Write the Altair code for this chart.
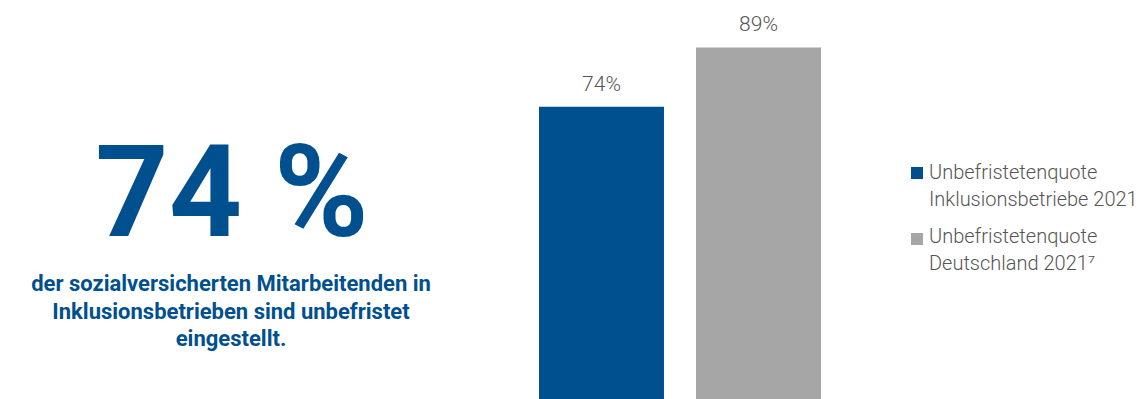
import altair as alt
import pandas as pd

kategorien = ["Inklusionsbetriebe", "Deutschland"]
legenden_texte = ["Unbefristetenquote\nInklusionsbetriebe 2021", "Unbefristetenquote\nDeutschland 2021⁷"]
werte = [74, 89]
wert_labels = ["74%", "89%"]
farben = ["#00508F", "#A6A6A6"]

kennzahl = ["74 %"]
beschreibung = ["der sozialversicherten Mitarbeitenden in", "Inklusionsbetrieben sind unbefristet", "eingestellt."]

FONT = "Roboto"
BLAU = "#00508F"
GRAU_TEXT = "#555555"

df = pd.DataFrame({"kategorie": kategorien, "wert": werte, "label": wert_labels})

x = alt.X("kategorie:N", sort=kategorien, axis=None,
          scale=alt.Scale(domain=kategorien, range=[539, 821], paddingInner=0.204, paddingOuter=0))
y = alt.Y("wert:Q", axis=None, scale=alt.Scale(domain=[0, 100], range=[399, 4], nice=False, zero=True))

bars = alt.Chart(df).mark_bar().encode(
    x=x, y=y,
    color=alt.Color("kategorie:N", sort=kategorien, legend=None,
                    scale=alt.Scale(domain=kategorien, range=farben))
)

labels = alt.Chart(df).mark_text(font=FONT, fontSize=21, fontWeight=300, color=GRAU_TEXT,
                                 dy=-16, baseline="alphabetic").encode(
    x=x, y=y, text="label:N"
)

big = alt.Chart(pd.DataFrame({"t": kennzahl})).mark_text(
    font=FONT, fontSize=128, fontWeight="bold", color=BLAU, align="center", baseline="alphabetic"
).encode(x=alt.value(232), y=alt.value(236), text="t:N")

desc = alt.Chart(pd.DataFrame({"t": ["\n".join(beschreibung)]})).mark_text(
    font=FONT, fontSize=22, fontWeight="bold", color=BLAU, align="center", baseline="alphabetic",
    lineBreak="\n", lineHeight=27.5
).encode(x=alt.value(231), y=alt.value(291), text="t:N")

legend_layers = []
for i, (txt, col) in enumerate(zip(legenden_texte, farben)):
    legend_layers.append(
        alt.Chart(pd.DataFrame({"t": [txt]})).mark_square(size=144, color=col, opacity=1)
        .encode(x=alt.value(917), y=alt.value(173 + i * 66))
    )
    legend_layers.append(
        alt.Chart(pd.DataFrame({"t": [txt]})).mark_text(
            font=FONT, fontSize=20, fontWeight=300, color=GRAU_TEXT, align="left", baseline="alphabetic",
            lineBreak="\n", lineHeight=27
        ).encode(x=alt.value(929), y=alt.value(179 + i * 64), text="t:N")
    )

chart = alt.layer(bars, labels, big, desc, *legend_layers).properties(
    width=1139, height=399, padding=0, autosize=alt.AutoSizeParams(type="none")
).configure_view(stroke=None)

chart.save("out.html", embed_options={"renderer": "svg", "actions": False})
